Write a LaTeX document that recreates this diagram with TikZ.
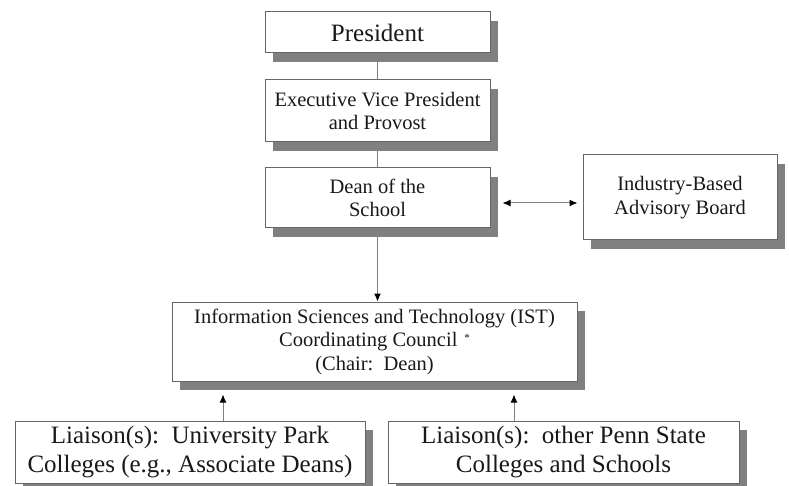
\documentclass[tikz,border=0pt]{standalone}
\usepackage{fontspec}
\setmainfont{Liberation Serif}
\usetikzlibrary{arrows.meta,shadows}

\tikzset{
  orgbox/.style={draw=black!60, line width=1pt, fill=white, align=center,
    inner sep=0pt, text=black!90,
    general shadow={shadow xshift=8pt, shadow yshift=-9pt, fill=black!50}},
  bigtext/.style={font=\fontsize{25}{29}\selectfont},
  smalltext/.style={font=\fontsize{20.5}{23.5}\selectfont},
  link/.style={draw=black!50, line width=1pt},
}

\begin{document}
\begin{tikzpicture}[x=1pt, y=-1pt, >={Latex[length=8pt,width=7pt,color=black]}]
\useasboundingbox (0,0) rectangle (789,486);

% chain of command
\node [orgbox, bigtext, minimum width=225pt, minimum height=41pt] (pres) at (377.5,32.5) {President};
\node [orgbox, smalltext, minimum width=225pt, minimum height=62pt] (evp) at (377.5,111) {Executive Vice President\\and Provost};
\node [orgbox, smalltext, minimum width=225pt, minimum height=60pt] (dean) at (377.5,198) {Dean of the\\School};
\node [orgbox, smalltext, minimum width=194pt, minimum height=85pt] (board) at (680,197.5) {Industry-Based\\Advisory Board};

% council and liaisons
\node [orgbox, smalltext, minimum width=405pt, minimum height=79pt] (council) at (374.5,341.5)
  {Information Sciences and Technology (IST)\\Coordinating Council\,\,\raisebox{5pt}{\fontsize{11}{11}\selectfont *}\\(Chair:\ \ Dean)};
\node [orgbox, bigtext, minimum width=350pt, minimum height=62pt] (lia1) at (190,452)
  {Liaison(s):\ \ University Park\\Colleges (e.g., Associate Deans)};
\node [orgbox, bigtext, minimum width=351pt, minimum height=62pt] (lia2) at (563.5,452)
  {Liaison(s):\ \ other Penn State\\Colleges and Schools};

\draw [link] (pres.south) -- (evp.north);
\draw [link] (evp.south) -- (dean.north);
\draw [link, ->] (dean.south) -- (dean.south |- council.north);

\draw [link, <->, shorten <=12pt, shorten >=5pt] ([yshift=-5pt]dean.east) -- ([yshift=-5pt]dean.east -| board.west);

\draw [link, ->, shorten >=13pt] ([xshift=33pt]lia1.north) -- ([xshift=33pt]lia1.north |- council.south);
\draw [link, ->, shorten >=13pt] ([xshift=-49.5pt]lia2.north) -- ([xshift=-49.5pt]lia2.north |- council.south);

\end{tikzpicture}
\end{document}
